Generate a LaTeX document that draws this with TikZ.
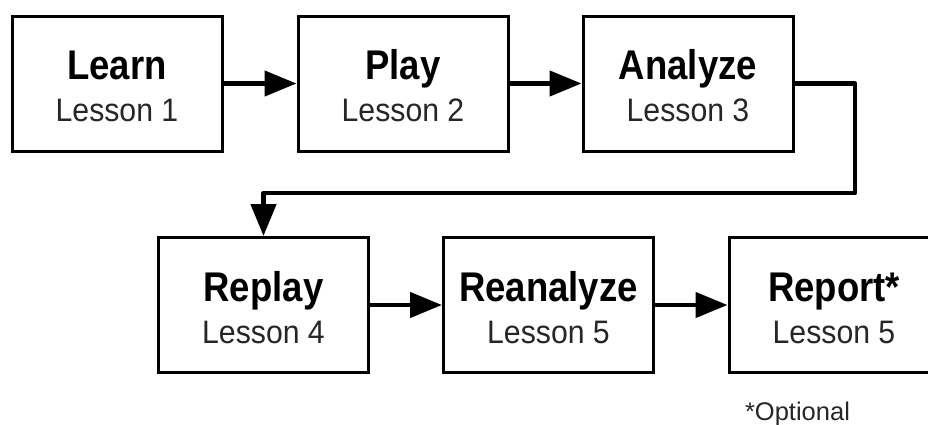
\documentclass[tikz,border=0pt]{standalone}
\usepackage{fontspec}
\setmainfont{Liberation Sans}
\newfontfamily\ttlfont{Liberation Sans}[FakeStretch=0.88]
\newfontfamily\subfont{Liberation Sans}[FakeStretch=0.93]
\usetikzlibrary{arrows.meta}
\begin{document}
\begin{tikzpicture}[x=1pt,y=-1pt,
  box/.style={draw=black, line width=3pt, minimum width=210pt, minimum height=135pt, inner sep=0pt},
  ttl/.style={anchor=base, inner sep=0pt, font=\ttlfont\fontsize{41.5}{41.5}\selectfont\bfseries},
  sub/.style={anchor=base, inner sep=0pt, text=black!85, font=\subfont\fontsize{32.5}{32.5}\selectfont},
  conn/.style={line width=4.5pt, line join=round, -{Triangle[length=32pt,width=25pt]}}]
\useasboundingbox (0,0) rectangle (928,424);
\clip (0,0) rectangle (928,424);
\node[box] (learn) at (117,83.5) {};
\node[box] (play) at (403,83.5) {};
\node[box] (analyze) at (688,83.5) {};
\node[box] (replay) at (263.5,305) {};
\node[box] (reanalyze) at (548.5,305) {};
\node[box] (report) at (834,305) {};
\foreach \n/\t/\s in {learn/Learn/Lesson 1, play/Play/Lesson 2, analyze/Analyze/Lesson 3, replay/Replay/Lesson 4, reanalyze/Reanalyze/Lesson 5, report/Report*/Lesson 5}{
  \node[ttl] (\n T) at ([yshift=4pt]\n.center) {\t};
  \node[sub] (\n S) at ([yshift=-38pt]\n.center) {\s};
}
\coordinate (turn) at (855,193);
\draw[conn] (learn.east) -- (play.west);
\draw[conn] (play.east) -- (analyze.west);
\draw[conn] (analyze.east) -| (turn) -| (replay.north);
\draw[conn] (replay.east) -- (reanalyze.west);
\draw[conn] (reanalyze.east) -- (report.west);
\node[anchor=base, inner sep=0pt, text=black!85, font=\fontsize{25.5}{25.5}\selectfont] (opt) at (797.5,420) {*Optional};
\end{tikzpicture}
\end{document}
